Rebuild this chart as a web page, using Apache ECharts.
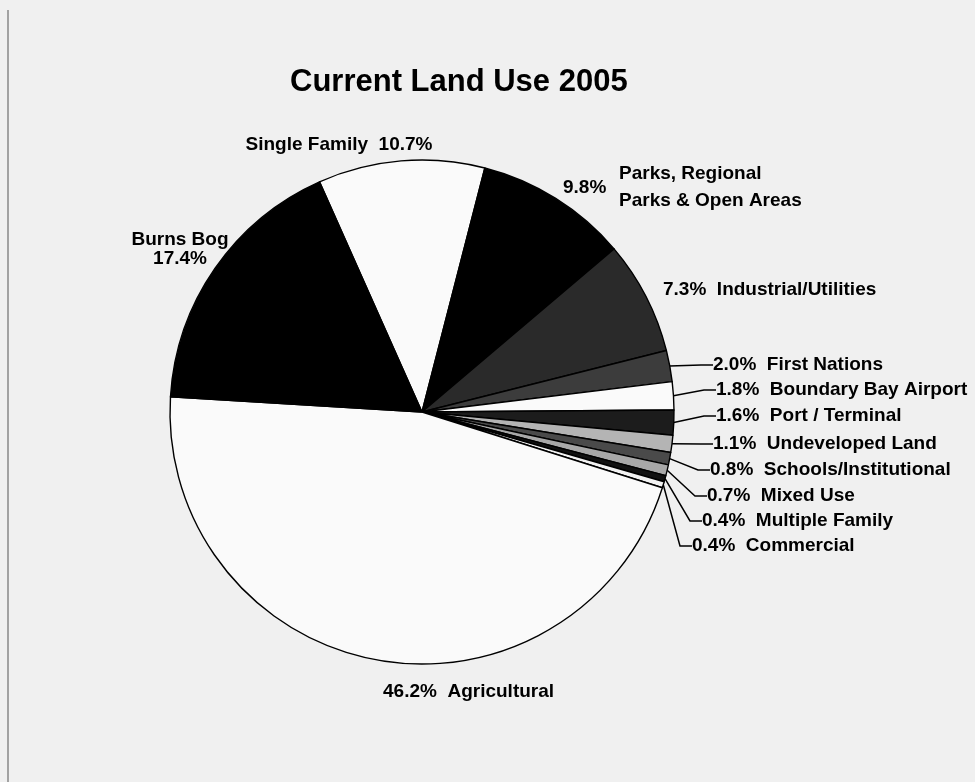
<!DOCTYPE html>
<html>
<head>
<meta charset="utf-8">
<title>Current Land Use 2005</title>
<script src="https://cdn.jsdelivr.net/npm/echarts@6/dist/echarts.min.js"></script>
<style>
  html, body { margin: 0; padding: 0; background: #f0f0f0; }
  #landUse { width: 975px; height: 782px; }
</style>
</head>
<body>
<div id="landUse"></div>
<script>
  // categories, clockwise from the top of the pie
  const categories = [
    'Single Family', 'Parks, Regional\nParks & Open Areas', 'Industrial/Utilities',
    'First Nations', 'Boundary Bay Airport', 'Port / Terminal', 'Undeveloped Land',
    'Schools/Institutional', 'Mixed Use', 'Multiple Family', 'Commercial',
    'Agricultural', 'Burns Bog'
  ];
  const shares = [10.7, 9.8, 7.3, 2.0, 1.8, 1.6, 1.1, 0.8, 0.7, 0.4, 0.4, 46.2, 17.4];

  // look of each slice (scanned b/w print)
  const fills = ['#fafafa', '#000000', '#2a2a2a', '#3c3c3c', '#fafafa', '#1c1c1c', '#b4b4b4',
    '#4a4a4a', '#a8a8a8', '#111111', '#f2f2f2', '#fafafa', '#000000'];
  const withLine = [false, false, false, true, true, true, true, true, true, true, true, false, false];
  // where each label sits: x, y, align
  const labelSpots = [
    [339, 145, 'center'], [563, 187, 'left'], [663, 290, 'left'],
    [713, 365, 'left'], [716, 390, 'left'], [716, 416, 'left'], [713, 444, 'left'],
    [710, 470, 'left'], [707, 496, 'left'], [702, 521, 'left'], [692, 546, 'left'],
    [383, 692, 'left'], [180, 249, 'center']
  ];

  const font = "'Liberation Sans', Arial, Helvetica, sans-serif";
  const chart = echarts.init(document.getElementById('landUse'));

  const pct = v => v.toFixed(1) + '%';
  const seriesData = categories.map((name, i) => ({
    name: name,
    value: shares[i],
    itemStyle: { color: fills[i] },
    labelLine: { show: withLine[i] }
  }));

  const option = {
    backgroundColor: '#f0f0f0',
    animation: false,
    title: {
      text: 'Current Land Use 2005',
      left: 285,
      top: 62,
      textStyle: { fontFamily: font, fontSize: 31, fontWeight: 'bold', color: '#000' }
    },
    graphic: [{
      type: 'line',
      shape: { x1: 8, y1: 10, x2: 8, y2: 782 },
      style: { stroke: '#888', lineWidth: 1.5 }
    }],
    series: [{
      type: 'pie',
      center: [422, 412],
      radius: 252,
      startAngle: 114,
      clockwise: true,
      avoidLabelOverlap: false,
      itemStyle: { borderColor: '#000', borderWidth: 1.4 },
      label: {
        show: true,
        position: 'outside',
        fontFamily: font,
        fontSize: 19,
        fontWeight: 'bold',
        color: '#000',
        lineHeight: 19,
        formatter: p => {
          const i = p.dataIndex;
          if (i === 0) return p.name + '  ' + pct(p.value);
          if (i === 1) return '{p|' + pct(p.value) + '}{n|Parks, Regional}\n{s| }{n|Parks & Open Areas}';
          if (i === 12) return p.name + '\n' + pct(p.value);
          return pct(p.value) + '  ' + p.name;
        },
        rich: {
          p: { fontFamily: font, fontSize: 19, fontWeight: 'bold', color: '#000', width: 56,
               verticalAlign: 'top', padding: [18, 0, 0, 0], lineHeight: 27 },
          s: { width: 56, lineHeight: 27 },
          n: { fontFamily: font, fontSize: 19, fontWeight: 'bold', color: '#000', lineHeight: 27 }
        }
      },
      labelLine: {
        length: 12,
        length2: 12,
        lineStyle: { color: '#000', width: 1.5 }
      },
      labelLayout: params => {
        const spot = labelSpots[params.dataIndex];
        return { x: spot[0], y: spot[1], align: spot[2], verticalAlign: 'middle', hideOverlap: false };
      },
      data: seriesData
    }]
  };

  chart.setOption(option);
  window.addEventListener('resize', () => {
    chart.resize();
  });
</script>
</body>
</html>
